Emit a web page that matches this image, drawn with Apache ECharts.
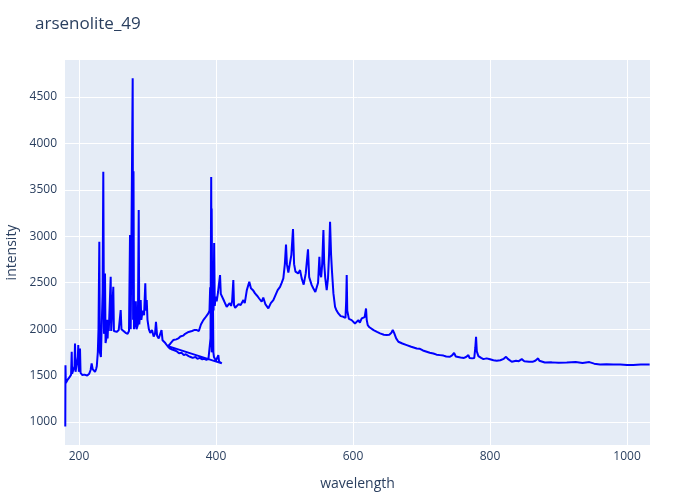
<!DOCTYPE html>
<html>
<head>
<meta charset="utf-8">
<script src="https://cdn.jsdelivr.net/npm/echarts@6/dist/echarts.min.js"></script>
<style>
  html, body { margin: 0; padding: 0; background: #fff; }
  #chart { width: 700px; height: 500px; }
</style>
</head>
<body>
<div id="chart"></div>
<script>
// first scan (180 - 409 nm)
const wavelengthA = [180.0, 180.3, 180.8, 183, 186, 188.5, 189.4, 190, 192, 193.5, 194.2, 195, 197, 198.3, 199, 199.8, 201.5, 202.3, 205, 208, 212, 215, 217, 218.5, 220, 223.4, 225, 226, 227.5, 228.5, 229.7, 230.5, 232, 233.5, 234.5, 235.5, 236.5, 237.5, 238, 238.8, 240, 241, 241.8, 242.8, 243.5, 245, 246.3, 247, 248.5, 250.1, 251, 253, 255, 258, 260.9, 262, 265, 268, 271, 273, 274.5, 275.5, 277, 278.4, 279.0, 279.6, 280.3, 281.5, 283, 284, 286, 287.2, 288, 289, 290.1, 291, 293, 295, 296.8, 297.8, 298.9, 300, 302, 304, 306.6, 309, 311, 312.4, 314, 316.4, 318.5, 320.5, 322, 324, 326, 328, 330, 333, 336, 340, 343, 346, 350, 353, 356, 360, 363, 366, 370, 373, 376, 380, 383, 386, 389, 391, 392, 393, 393.8, 394.5, 395.3, 396.2, 397, 398, 400, 402, 403.4, 404.5, 406.5, 408.4]
const intensityA = [950, 1610, 1420, 1450, 1480, 1510, 1756, 1520, 1530, 1600, 1846, 1540, 1560, 1700, 1828, 1540, 1792, 1530, 1505, 1510, 1500, 1520, 1560, 1631, 1570, 1540, 1570, 1600, 1750, 2000, 2941, 1750, 1700, 1720, 2400, 3695, 1950, 2000, 2600, 1850, 1900, 2100, 1900, 2097, 1980, 2000, 2564, 1980, 2000, 2456, 1980, 2000, 1970, 1990, 2205, 2000, 1980, 1960, 1950, 1980, 3013, 2000, 2000, 4702, 2100, 3700, 2000, 2050, 2300, 2000, 2050, 3283, 2050, 2150, 2313, 2100, 2200, 2150, 2493, 2200, 2313, 2100, 2000, 1960, 1990, 1920, 1950, 2080, 1930, 1900, 1880, 1990, 1880, 1860, 1850, 1830, 1810, 1790, 1780, 1770, 1760, 1740, 1745, 1720, 1730, 1710, 1700, 1690, 1700, 1680, 1690, 1675, 1680, 1670, 1680, 1666, 1900, 3640, 1750, 1800, 2500, 1750, 1700, 1680, 1660, 1650, 1720, 1650, 1640, 1631]

// second scan (330 - 1033 nm)
const wavelengthB = [330, 333, 335, 337.6, 340, 342, 345, 348, 350, 352, 355, 357, 360, 362, 365, 368, 370, 372, 375, 378, 381.5, 384, 386.5, 388.8, 390.5, 391.5, 392.5, 393.7, 394.5, 395.5, 396.5, 397.3, 398.2, 399.5, 401, 403, 404, 405.9, 407, 409, 412, 415.6, 418, 420, 422, 423.5, 425.3, 426.3, 428, 430.2, 433, 436, 440, 442, 445, 448.6, 451, 454, 457, 460, 463, 466.7, 469, 472, 476.4, 480, 483.7, 487, 490, 493.5, 496, 498.3, 500.5, 502.2, 503.5, 505.6, 508, 510, 512.4, 514, 516, 518, 520, 522.7, 525, 528, 531, 534.3, 536, 539.7, 542, 545, 547, 549, 550.9, 552, 553.5, 555, 556.8, 558, 559.5, 561.6, 563.5, 565, 566.5, 568, 569.5, 571.4, 573.8, 576, 578.6, 582, 585.9, 589, 590, 590.8, 591.6, 594, 598, 600.5, 602.9, 605, 607.8, 610, 612.7, 615, 617, 618.3, 619, 620, 621.5, 624, 626.4, 630, 635, 639.5, 645, 649.2, 653, 656, 658, 660, 663, 666.2, 672, 678.4, 685, 693, 695, 697, 702, 707.6, 712, 717.3, 722, 727, 732, 736, 741.6, 745, 747.5, 750, 757, 762, 765, 768.4, 770, 774, 777, 778.5, 779.6, 780.7, 783, 787, 790.3, 795, 800, 805, 809.8, 815, 820, 823.4, 826, 831.7, 838, 842, 846.3, 850, 857, 862, 866, 868, 870.2, 872, 880, 890, 900, 912, 925, 935, 945, 952, 960.6, 970, 980, 990, 1000, 1009, 1020, 1033]
const intensityB = [1817, 1840, 1860, 1882, 1870, 1890, 1900, 1920, 1910, 1930, 1950, 1954, 1970, 1950, 1980, 1990, 1970, 1990, 1980, 2050, 2097, 2120, 2140, 2169, 2200, 2450, 2300, 3300, 2250, 2600, 2200, 2927, 2250, 2350, 2300, 2400, 2380, 2582, 2380, 2400, 2300, 2241, 2260, 2280, 2250, 2300, 2528, 2260, 2230, 2223, 2270, 2260, 2313, 2280, 2420, 2510, 2440, 2420, 2385, 2360, 2330, 2295, 2340, 2270, 2223, 2280, 2313, 2370, 2420, 2456, 2500, 2546, 2700, 2910, 2700, 2610, 2610, 2800, 3078, 2700, 2620, 2620, 2600, 2636, 2550, 2480, 2600, 2860, 2560, 2474, 2440, 2400, 2385, 2500, 2780, 2600, 2560, 2700, 3067, 2700, 2550, 2420, 2550, 2800, 3157, 2800, 2600, 2385, 2241, 2200, 2169, 2140, 2133, 2120, 2300, 2582, 2200, 2110, 2097, 2080, 2061, 2080, 2097, 2070, 2115, 2100, 2130, 2150, 2223, 2100, 2043, 2020, 2007, 1990, 1970, 1954, 1940, 1936, 1940, 1960, 1990, 1960, 1900, 1864, 1845, 1828, 1810, 1792, 1810, 1790, 1770, 1756, 1745, 1738, 1725, 1720, 1715, 1705, 1702, 1720, 1745, 1705, 1695, 1690, 1700, 1720, 1690, 1685, 1690, 1800, 1917, 1760, 1710, 1690, 1677, 1685, 1675, 1665, 1659, 1665, 1680, 1702, 1680, 1649, 1660, 1655, 1677, 1655, 1650, 1648, 1660, 1670, 1685, 1660, 1640, 1642, 1638, 1640, 1645, 1635, 1645, 1628, 1620, 1622, 1618, 1620, 1615, 1615, 1618, 1620]

const xTicks = [200, 400, 600, 800, 1000]
const yTicks = [1000, 1500, 2000, 2500, 3000, 3500, 4000, 4500]

// one trace, same as the original: the second scan follows the first
const points = []
wavelengthA.forEach((w, i) => points.push([w, intensityA[i]]))
wavelengthB.forEach((w, i) => points.push([w, intensityB[i]]))

const textColor = "#2a3f5f"
const font = "Open Sans"

const myChart = echarts.init(document.getElementById("chart"))

const option = {
  animation: false,
  backgroundColor: "#fff",
  title: {
    text: "arsenolite_49",
    left: 35,
    top: 16,
    padding: 0,
    textStyle: { fontFamily: font, fontSize: 17, fontWeight: "normal", color: textColor }
  },
  grid: {
    left: 65,
    right: 50,
    top: 60,
    bottom: 55,
    outerBoundsMode: "none",
    containLabel: false,
    show: true,
    backgroundColor: "#E5ECF6",
    borderWidth: 0
  },
  xAxis: {
    type: "value",
    min: 179.6,
    max: 1033.5,
    name: "wavelength",
    nameLocation: "middle",
    nameGap: 32,
    nameTextStyle: { fontFamily: font, fontSize: 14, color: textColor },
    axisLine: { show: false },
    axisTick: { show: false, customValues: xTicks },
    axisLabel: { customValues: xTicks, margin: 6, formatter: (v) => String(v), fontFamily: font, fontSize: 12, color: textColor },
    splitLine: { show: true, lineStyle: { color: "#fff", width: 1 } }
  },
  yAxis: {
    type: "value",
    min: 752,
    max: 4899,
    name: "intensity",
    nameLocation: "middle",
    nameGap: 46,
    nameTextStyle: { fontFamily: font, fontSize: 14, color: textColor },
    axisLine: { show: false },
    axisTick: { show: false, customValues: yTicks },
    axisLabel: { customValues: yTicks, margin: 8, formatter: (v) => String(v), fontFamily: font, fontSize: 12, color: textColor },
    splitLine: { show: true, lineStyle: { color: "#fff", width: 1 } }
  },
  series: [
    {
      type: "line",
      data: points,
      showSymbol: false,
      lineStyle: { color: "#0000ff", width: 2 },
      itemStyle: { color: "#0000ff" }
    }
  ]
}

myChart.setOption(option)
</script>
</body>
</html>
